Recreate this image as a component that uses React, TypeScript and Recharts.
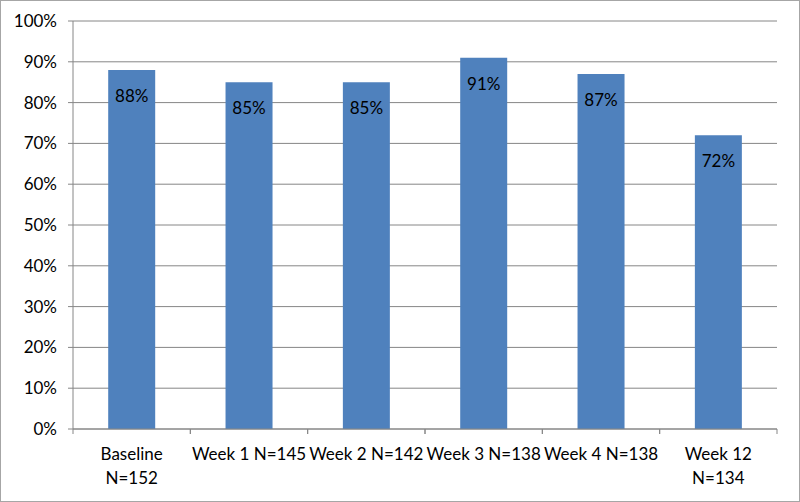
import React from 'react';
import { BarChart, Bar, XAxis, YAxis, CartesianGrid, LabelList } from 'recharts';

// x labels, '\n' marks where the original wraps
const categories = ['Baseline\nN=152', 'Week 1 N=145', 'Week 2 N=142', 'Week 3 N=138', 'Week 4 N=138', 'Week 12\nN=134'];
const percents = [88, 85, 85, 91, 87, 72];
const yTicks = [0, 10, 20, 30, 40, 50, 60, 70, 80, 90, 100];

const data = categories.map((name, i) => ({ name, value: percents[i] }));

const W = 798;
const H = 500;
const M = { top: 20, right: 22, bottom: 12, left: 0 };
const Y_W = 72;
const FONT = 'Lato, sans-serif';
const AXIS = '#868686';
const step = (W - M.left - M.right - Y_W) / categories.length;

function CategoryTick(props: any) {
  const { x, y, payload } = props;
  const lines = String(payload.value).split('\n');
  return (
    <g>
      <line x1={x - step / 2} x2={x - step / 2} y1={y} y2={y + 5} stroke={AXIS} />
      <line x1={x + step / 2} x2={x + step / 2} y1={y} y2={y + 5} stroke={AXIS} />
      {lines.map((l, i) => (
        <text key={i} x={x} y={y + 31 + i * 24} textAnchor="middle" fill="#000" fontSize={17} fontFamily={FONT}>
          {l}
        </text>
      ))}
    </g>
  );
}

export default function App() {
  return (
    <div
      style={{
        position: 'absolute',
        left: 0,
        top: 0,
        width: 800,
        height: 502,
        boxSizing: 'border-box',
        border: '1px solid #a6a6a6',
        background: '#fff',
      }}
    >
      <BarChart width={W} height={H} data={data} margin={M} barCategoryGap="30%">
        <CartesianGrid vertical={false} stroke={AXIS} />
        <XAxis
          dataKey="name"
          height={60}
          stroke={AXIS}
          tickLine={false}
          tickSize={0}
          tickMargin={0}
          interval={0}
          tick={<CategoryTick />}
        />
        <YAxis
          width={Y_W}
          domain={[0, 100]}
          ticks={yTicks}
          interval={0}
          stroke={AXIS}
          tickSize={5}
          tickMargin={11}
          tickFormatter={(v) => `${v}%`}
          tick={{ fill: '#000', fontSize: 17, fontFamily: FONT }}
        />
        <Bar dataKey="value" fill="#4F81BD" isAnimationActive={false}>
          <LabelList
            dataKey="value"
            position="insideTop"
            offset={20}
            formatter={(v: any) => `${v}%`}
            style={{ fill: '#000', fontSize: 17, fontFamily: FONT }}
          />
        </Bar>
      </BarChart>
    </div>
  );
}
